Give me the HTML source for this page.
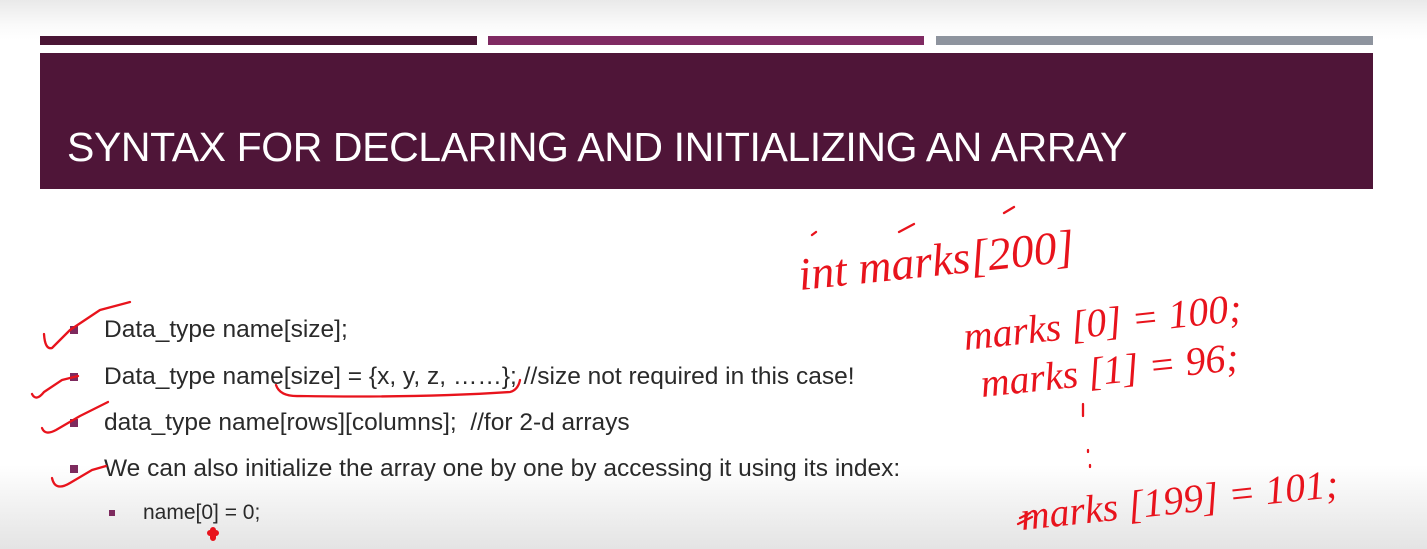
<!DOCTYPE html>
<html><head><meta charset="utf-8"><style>
body{margin:0;width:1427px;height:549px;overflow:hidden;position:relative;font-family:"Liberation Sans Narrow","Liberation Sans",sans-serif;
background:linear-gradient(to bottom,#e9e9e9 0px,#fafafa 25px,#fff 40px,#fff 465px,#f0f0f0 510px,#e4e4e4 549px);}
.bar{position:absolute;top:36px;height:9px}
.title{position:absolute;left:40px;top:53px;width:1333px;height:136px;background:#4f1538}
.title span{position:absolute;left:27px;top:115px;transform:translateY(-100%);color:#fff;font-family:"Liberation Sans",sans-serif;font-size:41px;letter-spacing:-0.4px;white-space:nowrap;line-height:1}
.li{position:absolute;font-size:24.5px;color:#2a2a2a;white-space:nowrap;line-height:1}
.sq{position:absolute;width:8px;height:8px;background:#7d2a5e}
</style></head><body>
<div class="bar" style="left:40px;width:437px;background:#4a1535"></div>
<div class="bar" style="left:488px;width:436px;background:#7f2a62"></div>
<div class="bar" style="left:936px;width:437px;background:#8e949e"></div>
<div class="title"><span>SYNTAX FOR DECLARING AND INITIALIZING AN ARRAY</span></div>

<div class="sq" style="left:70px;top:326px"></div>
<div class="li" style="left:104px;top:318px">Data_type name[size];</div>
<div class="sq" style="left:70px;top:373px"></div>
<div class="li" style="left:104px;top:365px">Data_type name[size] = {x, y, z, ……}; //size not required in this case!</div>
<div class="sq" style="left:70px;top:419px"></div>
<div class="li" style="left:104px;top:411px">data_type name[rows][columns];&nbsp; //for 2-d arrays</div>
<div class="sq" style="left:70px;top:465px"></div>
<div class="li" style="left:104px;top:457px">We can also initialize the array one by one by accessing it using its index:</div>
<div class="sq" style="left:109px;top:510px;width:6px;height:6px"></div>
<div class="li" style="left:143px;top:502px;font-size:21px">name[0] = 0;</div>

<svg width="1427" height="549" style="position:absolute;left:0;top:0" fill="none" stroke="#e8131c" stroke-width="2.3" stroke-linecap="round" stroke-linejoin="round">
<path d="M44 334 Q45 350 52 348 L70 330 L100 310 L130 302"/>
<path d="M32 394 Q36 402 44 392 L62 380 L78 376"/>
<path d="M42 428 Q45 436 56 430 L80 416 L108 402"/>
<path d="M52 478 Q55 492 70 483 L92 470 L106 466"/>
<path d="M276 385 Q280 397 300 396 Q420 398 510 392 Q518 390 520 380"/>
<path d="M812 235 l4 -3 M899 232 l15 -8 M1004 213 l10 -6"/>
<path d="M1020 518 l10 -5 M1018 524 l14 -7"/>
<path d="M1083 404 l0 12 M1088 450 l0 2 M1090 465 l0 2"/>
<path d="M210 533 h6 M213 530 v8" stroke-width="6"/>
<g fill="#e8131c" stroke="none" font-family="Liberation Serif,serif" font-style="italic">
<text x="800" y="290" font-size="46" transform="rotate(-6 800 290)">int marks[200]</text>
<text x="965" y="350" font-size="40" transform="rotate(-6 965 350)">marks [0] = 100;</text>
<text x="982" y="397" font-size="40" transform="rotate(-6 982 397)">marks [1] = 96;</text>
<text x="1022" y="530" font-size="40" transform="rotate(-6 1022 530)">marks [199] = 101;</text>
</g>
</svg>
</body></html>
